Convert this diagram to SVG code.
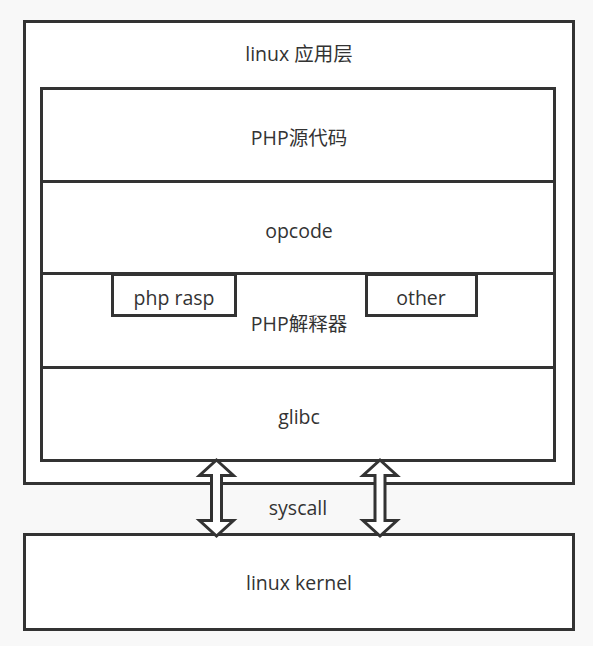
<svg xmlns="http://www.w3.org/2000/svg" width="593" height="646" viewBox="0 0 593 646">
<style>
.box{fill:#ffffff;stroke:#333333;stroke-width:3}
.ln{stroke:#333333;stroke-width:3;fill:none}
.arr{fill:#ffffff;stroke:#333333;stroke-width:3;stroke-linejoin:miter}
text{font-family:"Open Sans","Noto Sans CJK SC",sans-serif;font-size:19.5px;fill:#333333;text-anchor:middle;dominant-baseline:central}
</style>
<rect x="0" y="0" width="593" height="646" fill="#f8f8f8"/>
<g id="app-layer">
<rect class="box" x="24.5" y="21.5" width="549" height="462"/>
<text x="299" y="53">linux 应用层</text>
</g>
<g id="php-stack">
<rect class="box" x="41.5" y="88.5" width="513" height="372"/>
<line class="ln" x1="41.5" y1="181.5" x2="554.5" y2="181.5"/>
<line class="ln" x1="41.5" y1="273.5" x2="554.5" y2="273.5"/>
<line class="ln" x1="41.5" y1="367.5" x2="554.5" y2="367.5"/>
</g>
<g id="php-source"><text x="299" y="137">PHP源代码</text></g>
<g id="opcode"><text x="299" y="230">opcode</text></g>
<g id="php-interpreter"><text x="299" y="323">PHP解释器</text></g>
<g id="glibc"><text x="299" y="416">glibc</text></g>
<g id="php-rasp">
<rect class="box" x="112.5" y="274.5" width="123" height="41"/>
<text x="174" y="297">php rasp</text>
</g>
<g id="other">
<rect class="box" x="366.5" y="274.5" width="110" height="41"/>
<text x="421" y="297">other</text>
</g>
<g id="kernel">
<rect class="box" x="24.5" y="534.5" width="549" height="95"/>
<text x="299" y="582">linux kernel</text>
</g>
<g id="connectors">
<path class="arr" d="M216.5 460 L233.5 475.5 L221.5 475.5 L221.5 520.5 L233.5 520.5 L216.5 536 L199.5 520.5 L211.5 520.5 L211.5 475.5 L199.5 475.5 Z"/>
<path class="arr" d="M380 460 L397 475.5 L385 475.5 L385 520.5 L397 520.5 L380 536 L363 520.5 L375 520.5 L375 475.5 L363 475.5 Z"/>
<text x="298" y="507">syscall</text>
</g>
</svg>
